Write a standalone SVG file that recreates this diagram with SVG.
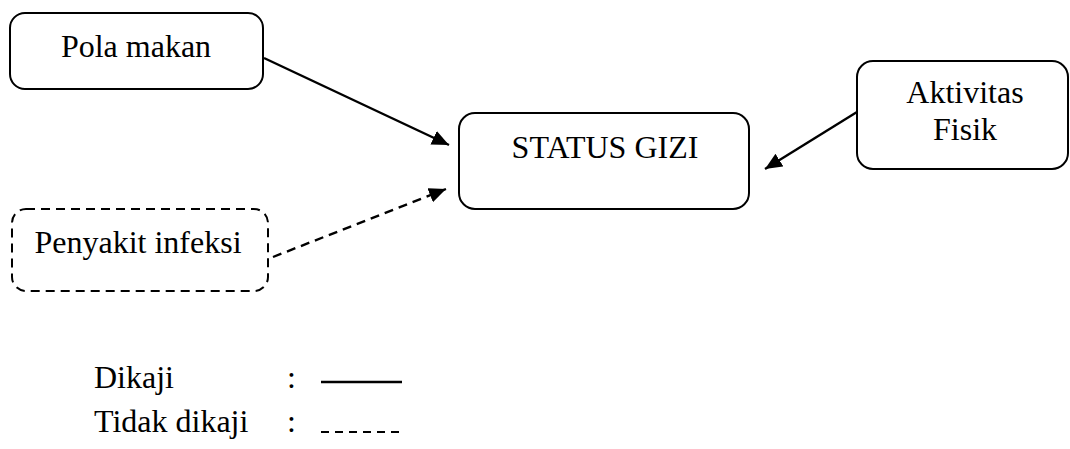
<svg xmlns="http://www.w3.org/2000/svg" width="1070" height="449" viewBox="0 0 1070 449">
<style>
.box{fill:#fff;stroke:#000;stroke-width:2}
.dash{stroke-dasharray:9 6}
.t{font-family:"Liberation Serif","Times New Roman",serif;font-size:32px;fill:#000}
.c{text-anchor:middle}
.ln{stroke:#000;stroke-width:2.4;fill:none}
</style>
<defs>
<marker id="ah" markerUnits="userSpaceOnUse" markerWidth="20" markerHeight="16" refX="17" refY="7.5" orient="auto">
<path d="M0,0 L17,7.5 L0,15 z" fill="#000"/>
</marker>
</defs>
<g id="pola-makan">
<rect class="box" x="10" y="13" width="253" height="76" rx="15"/>
<text class="t c" x="136" y="57">Pola makan</text>
</g>
<g id="status-gizi">
<rect class="box" x="459" y="113" width="290" height="96" rx="16"/>
<text class="t c" x="605" y="158">STATUS GIZI</text>
</g>
<g id="aktivitas-fisik">
<rect class="box" x="857" y="61" width="211" height="108" rx="16"/>
<text class="t c" x="965" y="103">Aktivitas</text>
<text class="t c" x="965" y="140">Fisik</text>
</g>
<g id="penyakit-infeksi">
<rect class="box dash" x="12" y="209" width="256" height="82" rx="14"/>
<text class="t c" x="138" y="253">Penyakit infeksi</text>
</g>
<g id="connectors">
<line class="ln" x1="264" y1="58" x2="449" y2="145" marker-end="url(#ah)"/>
<line class="ln" x1="857" y1="112" x2="765" y2="169" marker-end="url(#ah)"/>
<line class="ln dash" x1="273" y1="257" x2="446" y2="189" marker-end="url(#ah)"/>
</g>
<g id="legend">
<text class="t" x="94" y="388">Dikaji</text>
<text class="t" x="287" y="388">:</text>
<line x1="321" y1="382" x2="402" y2="382" stroke="#000" stroke-width="2.4"/>
<text class="t" x="94" y="432">Tidak dikaji</text>
<text class="t" x="287" y="432">:</text>
<line x1="321" y1="432" x2="400" y2="432" stroke="#000" stroke-width="2.2" stroke-dasharray="8 6"/>
</g>
</svg>
